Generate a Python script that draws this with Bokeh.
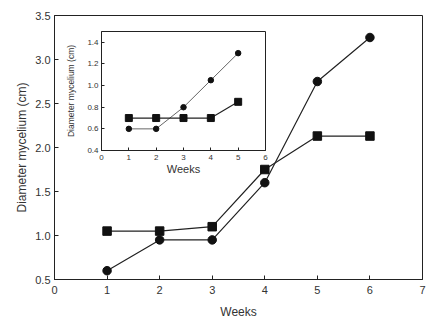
from bokeh.plotting import figure
from bokeh.layouts import column
from bokeh.models import FixedTicker, Range1d, NumeralTickFormatter
from bokeh.embed import file_html
from bokeh.resources import INLINE

# Main chart data
weeks = [1, 2, 3, 4, 5, 6]
squares_main = [1.05, 1.05, 1.10, 1.75, 2.13, 2.13]
circles_main = [0.60, 0.95, 0.95, 1.60, 2.75, 3.25]
x_ticks_main = [0, 1, 2, 3, 4, 5, 6, 7]
y_ticks_main = [0.5, 1.0, 1.5, 2.0, 2.5, 3.0, 3.5]

# Inset data
weeks_inset = [1, 2, 3, 4, 5]
squares_inset = [0.70, 0.70, 0.70, 0.70, 0.85]
circles_inset = [0.60, 0.60, 0.80, 1.05, 1.30]
x_ticks_inset = [0, 1, 2, 3, 4, 5, 6]
y_ticks_inset = [0.4, 0.6, 0.8, 1.0, 1.2, 1.4]

FONT = "Liberation Sans"
TXT = "#333333"
LINE = "#222222"


def style_axes(p, tick_size, ticks_x, ticks_y):
    for ax in (p.xaxis[0], p.yaxis[0]):
        ax.major_label_text_font = FONT
        ax.major_label_text_font_size = tick_size
        ax.major_label_text_color = TXT
        ax.axis_label_text_font = FONT
        ax.axis_label_text_font_style = "normal"
        ax.axis_label_text_color = TXT
        ax.major_tick_in = 4
        ax.major_tick_out = 0
        ax.minor_tick_line_color = None
        ax.axis_line_color = LINE
        ax.major_tick_line_color = LINE
    p.xaxis[0].ticker = FixedTicker(ticks=ticks_x)
    p.yaxis[0].ticker = FixedTicker(ticks=ticks_y)
    p.yaxis[0].formatter = NumeralTickFormatter(format="0.0")
    p.grid.visible = False
    p.outline_line_color = LINE


main = figure(width=440, height=325, output_backend="svg", toolbar_location=None,
              x_range=Range1d(0, 7), y_range=Range1d(0.5, 3.5),
              min_border_left=54, min_border_right=18, min_border_top=15,
              min_border_bottom=46)
style_axes(main, "11px", x_ticks_main, y_ticks_main)
main.xaxis.axis_label = "Weeks"
main.yaxis.axis_label = "Diameter mycelium (cm)"
main.xaxis.axis_label_text_font_size = "12px"
main.yaxis.axis_label_text_font_size = "12px"
main.xaxis.major_label_standoff = 6
main.xaxis.axis_label_standoff = 8
main.yaxis.major_label_standoff = 4
main.yaxis.axis_label_standoff = 3

main.line(weeks, squares_main, line_color=LINE, line_width=1.2)
main.scatter(weeks, squares_main, marker="square", size=8.5, fill_color="#111111", line_color="#111111")
main.line(weeks, circles_main, line_color=LINE, line_width=1.2)
main.scatter(weeks, circles_main, marker="circle", size=8.5, fill_color="#111111", line_color="#111111")

# The column aligns the inset's side borders with the main plot (54 / 18 px)
inset = figure(width=236, height=150, output_backend="svg", toolbar_location=None,
               x_range=Range1d(0, 6), y_range=Range1d(0.4, 1.5),
               min_border_left=54, min_border_right=18, min_border_top=3,
               min_border_bottom=28)
style_axes(inset, "8px", x_ticks_inset, y_ticks_inset)
inset.xaxis.axis_label = "Weeks"
inset.yaxis.axis_label = "Diameter mycelium (cm)"
inset.xaxis.axis_label_text_font_size = "11px"
inset.yaxis.axis_label_text_font_size = "8.5px"
inset.xaxis.major_label_standoff = 4
inset.xaxis.axis_label_standoff = 0
inset.yaxis.major_label_standoff = 3
inset.yaxis.axis_label_standoff = 8
inset.xaxis.major_tick_in = 3
inset.yaxis.major_tick_in = 3
inset.background_fill_alpha = 0
inset.border_fill_alpha = 0

inset.line(weeks_inset, circles_inset, line_color="#666666", line_width=1)
inset.scatter(weeks_inset, circles_inset, marker="circle", size=5.5, fill_color="#111111", line_color="#111111")
inset.line(weeks_inset, squares_inset, line_color=LINE, line_width=1.2)
inset.scatter(weeks_inset, squares_inset, marker="square", size=7, fill_color="#111111", line_color="#111111")

inset.margin = (-297, 0, 0, 47)

layout = column(main, inset)

open("out.html", "w").write(file_html(layout, INLINE))
